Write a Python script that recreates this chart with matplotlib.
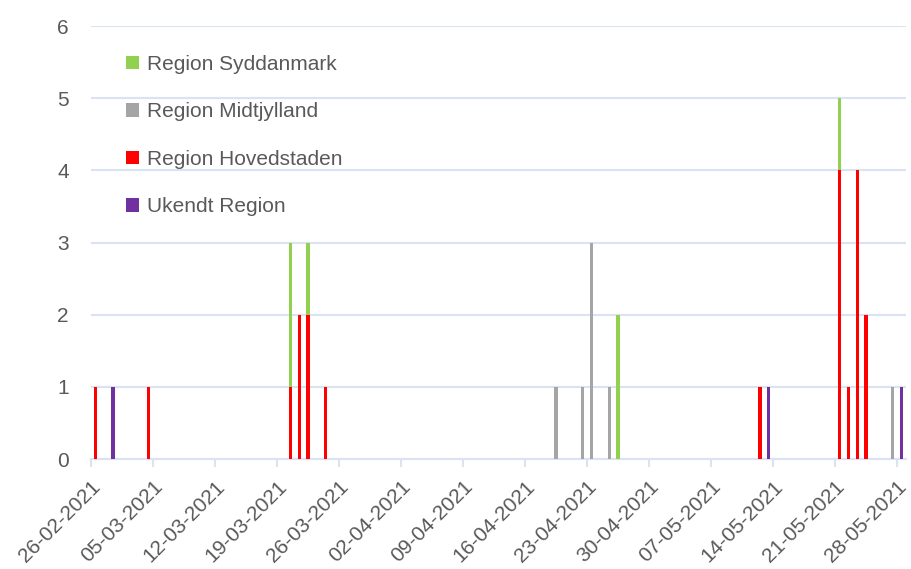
import numpy as np
import pandas as pd
import matplotlib
matplotlib.use('Agg')
import matplotlib.pyplot as plt
import matplotlib.dates as mdates

plt.rcParams['font.family'] = ['Liberation Sans', 'DejaVu Sans']

# alle dage i perioden
dage = pd.date_range('2021-02-26', '2021-05-28', freq='D')

# tilfælde pr. region (dato: antal)
hovedstaden = {'2021-02-26': 1, '2021-03-04': 1, '2021-03-20': 1, '2021-03-21': 2,
               '2021-03-22': 2, '2021-03-24': 1, '2021-05-12': 1, '2021-05-21': 4,
               '2021-05-22': 1, '2021-05-23': 4, '2021-05-24': 2}
syddanmark = {'2021-03-20': 2, '2021-03-22': 1, '2021-04-26': 2, '2021-05-21': 1}
midtjylland = {'2021-04-19': 1, '2021-04-22': 1, '2021-04-23': 3, '2021-04-25': 1,
               '2021-05-27': 1}
ukendt = {'2021-02-28': 1, '2021-05-13': 1, '2021-05-28': 1}

tick_dage = pd.date_range('2021-02-26', '2021-05-28', freq='7D')


def serie(d):
    s = pd.Series(0, index=dage)
    for k, v in d.items():
        s[pd.Timestamp(k)] = v
    return s.values


serier = [('Ukendt Region', ukendt, '#7030A0'),
          ('Region Hovedstaden', hovedstaden, '#FF0000'),
          ('Region Midtjylland', midtjylland, '#A5A5A5'),
          ('Region Syddanmark', syddanmark, '#92D050')]

fig = plt.figure(figsize=(9.12, 5.69), dpi=100)
ax = fig.add_axes([0.0998, 0.1933, 0.8936, 0.761])

x = mdates.date2num(dage) + 0.5
bund = np.zeros(len(dage))
handles = {}
for navn, d, farve in serier:
    y = serie(d)
    b = ax.bar(x, y, width=0.38, bottom=bund, color=farve, label=navn, zorder=3)
    handles[navn] = b
    bund = bund + y

start = mdates.date2num(pd.Timestamp('2021-02-26'))
ax.set_xlim(start, start + 92)
ax.set_ylim(0, 6)
ax.set_yticks(range(0, 7))

ax.set_xticks(mdates.date2num(tick_dage))
ax.set_xticklabels([t.strftime('%d-%m-%Y') for t in tick_dage], rotation=45,
                   ha='right', rotation_mode='anchor')

gridfarve = '#DAE3F3'
ax.grid(axis='y', color=gridfarve, linewidth=1.5, zorder=0)
for s in ['top', 'right', 'left']:
    ax.spines[s].set_visible(False)
ax.spines['bottom'].set_color(gridfarve)
ax.spines['bottom'].set_linewidth(1.5)
ax.tick_params(axis='x', colors=gridfarve, length=6, width=1.5, labelcolor='#595959',
               labelsize=15, pad=7)
ax.tick_params(axis='y', length=0, labelcolor='#595959', labelsize=15, pad=16)

orden = ['Region Syddanmark', 'Region Midtjylland', 'Region Hovedstaden', 'Ukendt Region']
leg = ax.legend([handles[n] for n in orden], orden, loc='upper left',
                bbox_to_anchor=(0.02, 0.977), frameon=False, fontsize=15,
                handlelength=0.6, handleheight=0.6, handletextpad=0.4,
                labelspacing=1.37, labelcolor='#595959')

fig.savefig('out.png', dpi=100)
